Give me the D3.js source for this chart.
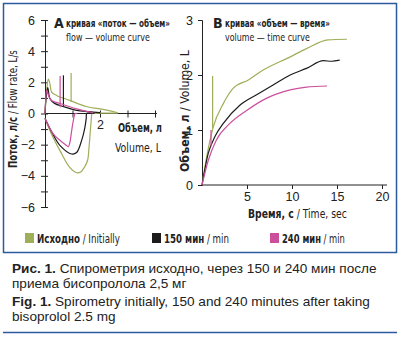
<!DOCTYPE html>
<html>
<head>
<meta charset="utf-8">
<script src="https://cdn.jsdelivr.net/npm/d3@7"></script>
<style>
  body { margin: 0; background: #fff; }
  svg { display: block; }
  .nar { font-family: "Liberation Sans Narrow", "Arial Narrow", "DejaVu Sans Condensed", sans-serif; fill: #222; }
  .cap { font-family: "Liberation Sans", Arial, sans-serif; fill: #222; }
  .axis path, .axis line { stroke: #222; stroke-width: 1; }
  .axis text { font-family: "Liberation Sans Narrow", "Arial Narrow", sans-serif; font-size: 12.5px; fill: #222; }
</style>
</head>
<body>
<svg width="402" height="337"></svg>
<script>
// flow-volume loops: [volume L, flow L/s]
var fvInitial = [[0,-0.3],[0.18,-1.1],[0.55,-2.4],[0.9,-3.46],[1.15,-3.8],[1.3,-3.75],[1.45,-3.4],[1.55,-3.0],[1.6,-2.2],[1.64,-1.3],[1.7,0],
                 [1.7,0],[2.0,0.02],[2.3,0.02],[2.65,0.02]];
var fvInitialTop = [[0,0],[0.05,1.2],[0.12,2.2],[0.18,1.9],[0.24,1.37],[0.42,1.16],[0.9,0.84],[1.5,0.45],[2.1,0.26],[2.65,0.05]];
var fv150 = [[0,-0.3],[0.25,-1.2],[0.55,-2.06],[0.97,-2.6],[1.15,-2.5],[1.33,-1.74],[1.45,-0.9],[1.5,-0.3],[1.52,0],[1.8,0]];
var fv150Top = [[0,0],[0.04,1.0],[0.1,1.66],[0.18,0.95],[0.35,0.65],[0.66,0.45],[1.15,0.2],[1.6,0.12],[2.0,0.05]];
var fv240 = [[0,-0.3],[0.3,-1.3],[0.79,-2.06],[0.85,-2.13],[0.9,-1.9],[0.97,-1.1],[1.03,-0.45],[1.1,0],[1.17,0]];
var fv240Top = [[0,0],[0.03,1.0],[0.06,1.5],[0.14,1.1],[0.24,0.84],[0.55,0.64],[1.15,0.3],[1.75,0.05]];
// vertical markers on the flow-volume plot: [volume, flow from, flow to]
var fvMarks = [[0.95,0.73,2.6],[0.67,0.45,2.45],[0.55,0.4,2.4]];

// volume-time curves: [time s, volume L]
var vtInitial = [[0,0],[0.52,0.51],[1.26,1.06],[2.37,1.48],[3.48,1.76],[5.15,1.91],[6.8,2.09],[9.8,2.33],[11.6,2.48],[14,2.64],[16.1,2.65]];
var vt150 = [[0,0],[0.7,0.58],[1.44,0.88],[2.37,1.12],[4.2,1.45],[6.07,1.64],[7.9,1.82],[9.8,2.0],[11.6,2.12],[13.5,2.26],[14.4,2.25],[15.3,2.27]];
var vt240 = [[0,0],[0.7,0.45],[1.6,0.82],[3.1,1.12],[5,1.36],[7.2,1.58],[9.8,1.73],[11.6,1.78],[13.9,1.8]];
var vtMarks = [[1.18,1.03,1.98],[1.0,0.7,1.0]];

var seriesNames = [["Исходно", " / Initially"], ["150 мин", " / min"], ["240 мин", " / min"]];
var colors = ["#9fae58", "#1c1c1c", "#cc4f9c"];

var svg = d3.select("svg");

// condensed label: parts are [text, bold]; squeezed horizontally to width w
function label(x, y, rot, size, parts, w) {
  var t = svg.append("text").attr("class", "nar").attr("font-size", size);
  parts.forEach(function(p) {
    t.append("tspan").attr("font-weight", p[1] ? "bold" : "normal").text(p[0]);
  });
  var w0 = t.node().getComputedTextLength();
  t.attr("transform", "translate(" + x + "," + y + ") rotate(" + rot + ") scale(" + (w / w0) + ",1)");
  return t;
}

// frame
svg.append("rect").attr("x", 3.5).attr("y", 3.5).attr("width", 393).attr("height", 249)
  .attr("fill", "none").attr("stroke", "#2c5aa0").attr("stroke-width", 1.5);
svg.append("line").attr("x1", 3).attr("x2", 397).attr("y1", 332.5).attr("y2", 332.5)
  .attr("stroke", "#2c5aa0").attr("stroke-width", 1.5);

// ---- panel A: flow-volume ----
var xA = d3.scaleLinear().domain([0, 4]).range([45, 155]);
var yA = d3.scaleLinear().domain([-6, 6]).range([207, 20]);

svg.append("g").attr("class", "axis").attr("transform", "translate(45,0)")
  .call(d3.axisLeft(yA).tickValues(d3.range(-6, 7)).tickSizeOuter(0).tickSize(4).tickPadding(6)
    .tickFormat(function(d) { return d % 2 === 0 ? d3.format("d")(d) : ""; }))
  .call(function(g) { g.selectAll(".tick line").attr("x1", 3); });
svg.append("g").attr("class", "axis").attr("transform", "translate(0," + yA(0) + ")")
  .call(d3.axisBottom(xA).tickValues([0, 1, 2, 3, 4]).tickSizeOuter(0).tickSize(4)
    .tickFormat(function(d) { return d === 2 ? "2" : ""; }))
  .call(function(g) {
    g.select(".domain").attr("d", "M45,0H157");
    g.selectAll(".tick line").attr("y1", -3);
  });

var lineA = d3.line().x(function(d) { return xA(d[0]); }).y(function(d) { return yA(d[1]); })
  .curve(d3.curveCatmullRom);

[[fvInitial, fvInitialTop], [fv150, fv150Top], [fv240, fv240Top]].forEach(function(s, i) {
  svg.append("path").attr("d", lineA(s[0])).attr("fill", "none").attr("stroke", colors[i]).attr("stroke-width", 1.2);
  svg.append("path").attr("d", lineA(s[1])).attr("fill", "none").attr("stroke", colors[i]).attr("stroke-width", 1.2);
  var m = fvMarks[i];
  svg.append("line").attr("x1", xA(m[0])).attr("x2", xA(m[0])).attr("y1", yA(m[1])).attr("y2", yA(m[2]))
    .attr("stroke", colors[i]).attr("stroke-width", 1.2);
});

// panel A titles
svg.append("text").attr("class", "nar").attr("x", 54).attr("y", 28).attr("font-size", 14).attr("font-weight", "bold").text("А");
label(66, 27, 0, 10, [["кривая «поток — объем»", true]], 104);
label(66, 41, 0, 11, [["flow — volume curve", false]], 84);
label(118, 132, 0, 12.5, [["Объем, л", true]], 44);
label(115, 152, 0, 12.5, [["Volume, L", false]], 46);
label(17, 168, -90, 12.5, [["Поток, л/с", true], [" / Flow rate, L/s", false]], 118);

// ---- panel B: volume-time ----
var xB = d3.scaleLinear().domain([0, 20]).range([202, 382]);
var yB = d3.scaleLinear().domain([0, 3]).range([185, 20]);

svg.append("g").attr("class", "axis").attr("transform", "translate(202,0)")
  .call(d3.axisLeft(yB).ticks(3).tickSizeOuter(0).tickSize(4).tickPadding(5));
svg.append("g").attr("class", "axis").attr("transform", "translate(0,185)")
  .call(d3.axisBottom(xB).tickValues([5, 10, 15, 20]).tickSizeOuter(0).tickSize(4))
  .call(function(g) { g.select(".domain").attr("d", "M202,0H387"); });

var lineB = d3.line().x(function(d) { return xB(d[0]); }).y(function(d) { return yB(d[1]); })
  .curve(d3.curveMonotoneX);
[vtInitial, vt150, vt240].forEach(function(s, i) {
  svg.append("path").attr("d", lineB(s)).attr("fill", "none").attr("stroke", colors[i]).attr("stroke-width", 1.2);
});
vtMarks.forEach(function(m, i) {
  var c = i === 0 ? colors[0] : colors[2];
  svg.append("line").attr("x1", xB(m[0])).attr("x2", xB(m[0])).attr("y1", yB(m[1])).attr("y2", yB(m[2]))
    .attr("stroke", c).attr("stroke-width", 1.2);
});

svg.append("text").attr("class", "nar").attr("x", 213).attr("y", 28).attr("font-size", 14).attr("font-weight", "bold").text("В");
label(225, 27, 0, 10, [["кривая «объем — время»", true]], 105);
label(225, 41, 0, 11, [["volume — time curve", false]], 85);
label(248, 218, 0, 12.5, [["Время, с", true], [" / Time, sec", false]], 99);
label(189, 172, -90, 12.5, [["Объем, л", true], [" / Volume, L", false]], 122);

// ---- legend ----
var legX = [25, 152, 270];
var legW = [83, 65, 63];
seriesNames.forEach(function(n, i) {
  svg.append("rect").attr("x", legX[i]).attr("y", 233).attr("width", 9).attr("height", 10).attr("fill", colors[i]);
  label(legX[i] + 12, 243, 0, 12.5, [[n[0], true], [n[1], false]], legW[i]);
});

// ---- caption ----
var capLines = [
  [["Рис. 1.", true], [" Спирометрия исходно, через 150 и 240 мин после", false]],
  [["приема бисопролола 2,5 мг", false]],
  [["Fig. 1.", true], [" Spirometry initially, 150 and 240 minutes after taking", false]],
  [["bisoprolol 2.5 mg", false]]
];
var capY = [273, 288, 306, 321];
capLines.forEach(function(line, i) {
  var t = svg.append("text").attr("class", "cap").attr("x", 12).attr("y", capY[i]).attr("font-size", 13.6);
  line.forEach(function(p) {
    t.append("tspan").attr("font-weight", p[1] ? "bold" : "normal").text(p[0]);
  });
});
</script>
</body>
</html>
